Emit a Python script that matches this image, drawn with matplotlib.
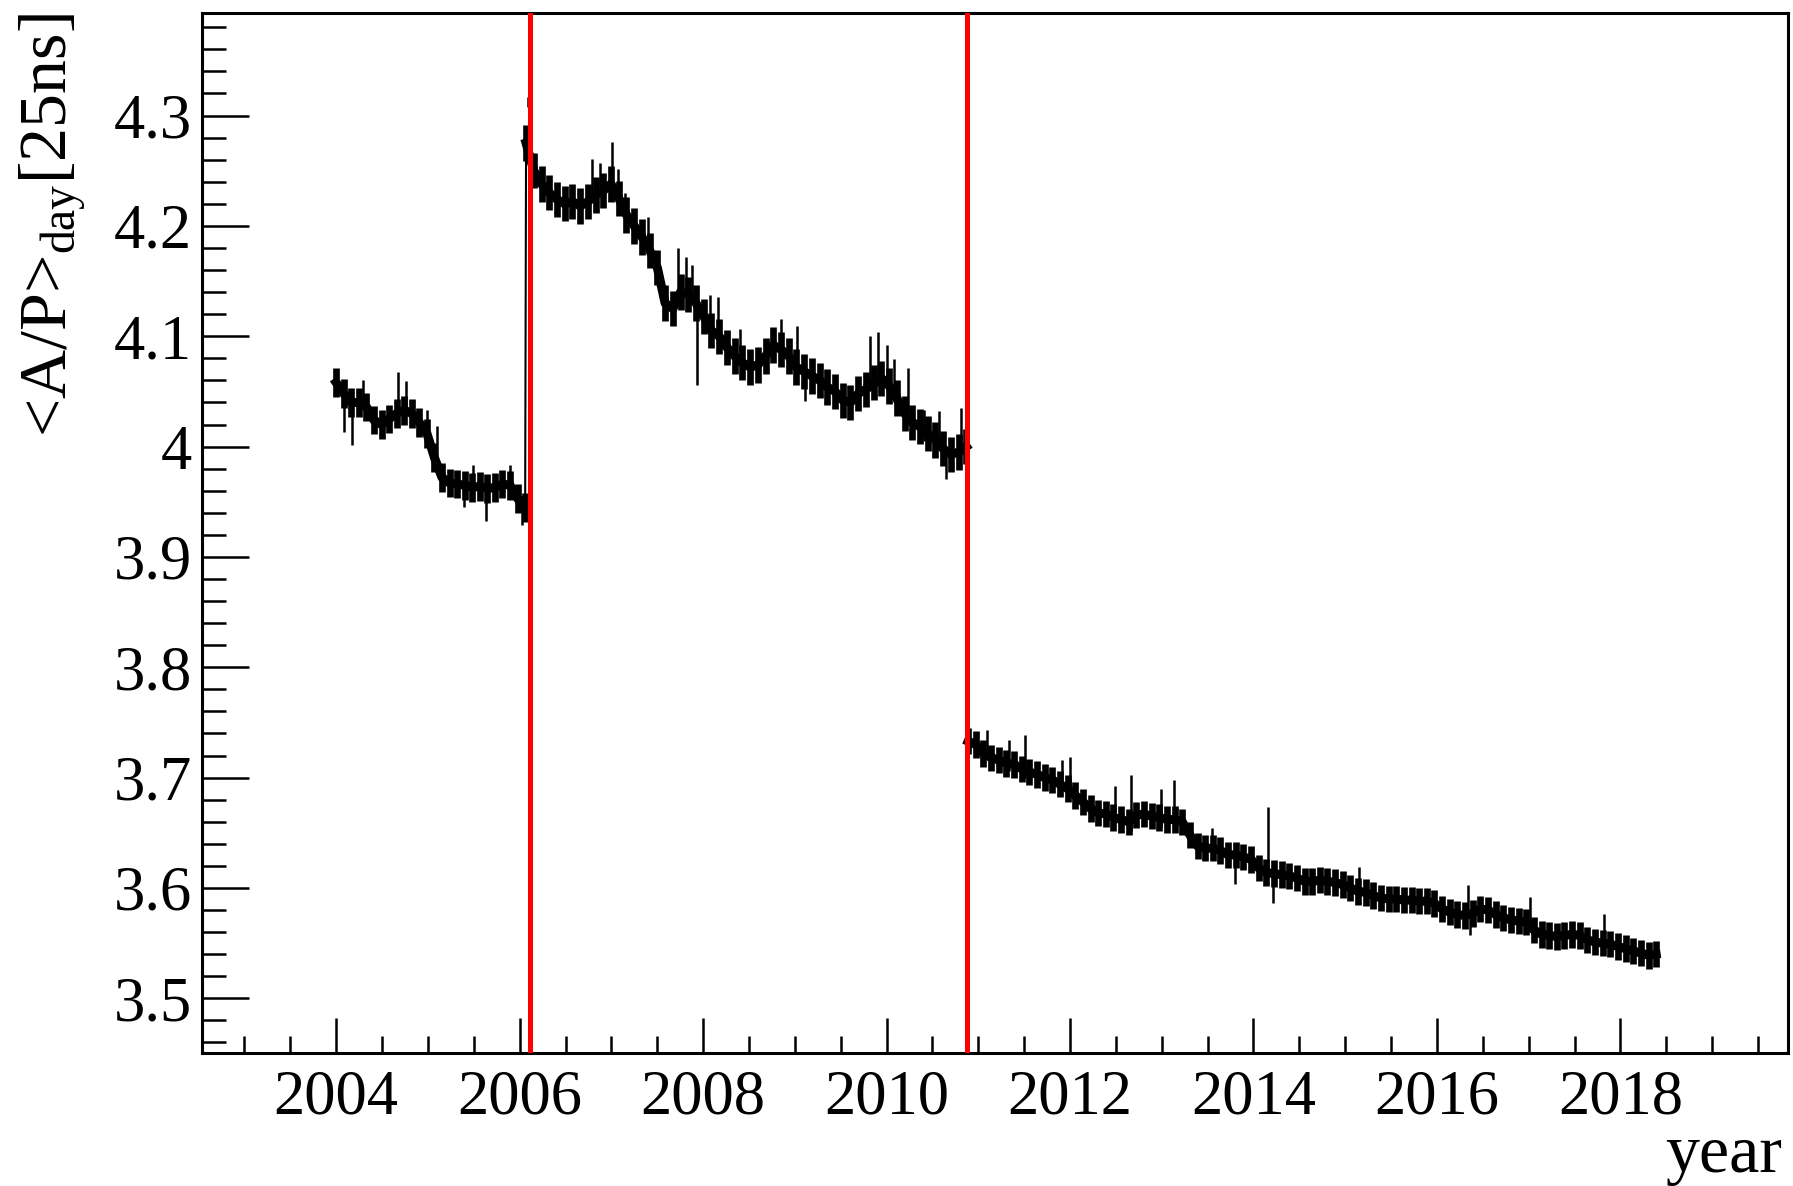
import numpy as np
import matplotlib
matplotlib.use('Agg')
import matplotlib.pyplot as plt
from matplotlib.ticker import MultipleLocator, FormatStrFormatter

plt.rcParams['font.family'] = ['Liberation Serif', 'DejaVu Serif']
plt.rcParams['mathtext.fontset'] = 'custom'
plt.rcParams['mathtext.rm'] = 'Liberation Serif'
plt.rcParams['mathtext.it'] = 'Liberation Serif:italic'

# ---------------- data ----------------
# period 1 : 2004.00 - 2006.06
seg1_range = (2004.00, 2006.06)
seg1_vals = [4.058, 4.048, 4.040, 4.040, 4.036, 4.024, 4.020, 4.025, 4.030, 4.033,
             4.030, 4.022, 4.012, 3.990, 3.972, 3.967, 3.966, 3.965, 3.963, 3.964,
             3.962, 3.963, 3.966, 3.965, 3.953, 3.945]
seg1_err = 0.013

# period 2 : 2006.07 - 2010.87
seg2_range = (2006.07, 2010.87)
seg2_vals = [4.275, 4.250, 4.238, 4.230, 4.224, 4.220, 4.222, 4.218, 4.222, 4.228,
             4.232, 4.238, 4.225, 4.210, 4.200, 4.190, 4.178, 4.162, 4.130, 4.125,
             4.140, 4.138, 4.130, 4.118, 4.105, 4.100, 4.090, 4.082, 4.076, 4.072,
             4.074, 4.082, 4.092, 4.088, 4.082, 4.072, 4.068, 4.064, 4.060, 4.054,
             4.050, 4.042, 4.040, 4.048, 4.052, 4.058, 4.062, 4.055, 4.044, 4.030,
             4.022, 4.018, 4.012, 4.006, 3.998, 3.993, 3.995, 4.000]
seg2_err = 0.016

# period 3 : 2010.89 - 2018.39
seg3_range = (2010.89, 2018.39)
seg3_vals = [3.733, 3.730, 3.722, 3.718, 3.716, 3.713, 3.712, 3.708, 3.705, 3.703,
             3.700, 3.698, 3.694, 3.690, 3.684, 3.678, 3.672, 3.668, 3.667, 3.664,
             3.662, 3.660, 3.666, 3.667, 3.665, 3.664, 3.662, 3.662, 3.660, 3.648,
             3.638, 3.636, 3.636, 3.634, 3.630, 3.630, 3.628, 3.626, 3.618, 3.614,
             3.613, 3.612, 3.611, 3.609, 3.606, 3.606, 3.607, 3.606, 3.605, 3.603,
             3.600, 3.597, 3.596, 3.593, 3.591, 3.590, 3.590, 3.589, 3.589, 3.588,
             3.588, 3.586, 3.581, 3.578, 3.576, 3.575, 3.577, 3.581, 3.580, 3.576,
             3.573, 3.571, 3.570, 3.569, 3.562, 3.558, 3.557, 3.556, 3.557, 3.558,
             3.557, 3.553, 3.551, 3.550, 3.549, 3.547, 3.545, 3.543, 3.541, 3.539,
             3.540]
seg3_err = 0.012

# individual outlying days (time, low end, high end of error bar)
spike_t = [2004.08, 2004.175, 2004.29, 2004.67, 2004.76, 2004.99, 2005.10, 2005.39,
           2005.49, 2005.63, 2005.89, 2006.03, 2006.09,
           2006.785, 2006.876, 2007.003, 2007.076, 2007.148, 2007.403, 2007.73,
           2007.81, 2007.875, 2007.93, 2008.075, 2008.166, 2008.40, 2008.845,
           2009.02, 2009.11, 2009.82, 2009.91, 2010.00, 2010.08, 2010.23, 2010.41,
           2010.575, 2010.65, 2010.81,
           2011.10, 2011.34, 2011.51, 2011.91, 2012.00, 2012.49, 2012.67, 2012.99,
           2013.13, 2013.544, 2013.80, 2014.155, 2014.21, 2015.15, 2016.34,
           2016.36, 2017.015, 2017.82]
spike_lo = [4.013, 4.001, 4.035, 4.025, 4.030, 4.012, 3.975, 3.945,
            3.962, 3.933, 3.962, 3.929, 4.308,
            4.225, 4.228, 4.232, 4.222, 4.205, 4.180, 4.140,
            4.135, 4.130, 4.056, 4.105, 4.100, 4.075, 4.088,
            4.070, 4.041, 4.050, 4.055, 4.055, 4.040, 4.020, 4.005,
            3.998, 3.971, 3.992,
            3.720, 3.706, 3.700, 3.690, 3.684, 3.660, 3.652, 3.655,
            3.655, 3.630, 3.604, 3.614, 3.586, 3.595, 3.577,
            3.557, 3.560, 3.545]
spike_hi = [4.048, 4.040, 4.060, 4.068, 4.059, 4.033, 4.019, 3.966,
            3.983, 3.964, 3.983, 3.955, 4.317,
            4.261, 4.257, 4.276, 4.252, 4.230, 4.208, 4.180,
            4.172, 4.165, 4.125, 4.137, 4.136, 4.107, 4.116,
            4.109, 4.068, 4.100, 4.104, 4.092, 4.079, 4.071, 4.033,
            4.032, 4.000, 4.035,
            3.743, 3.734, 3.739, 3.716, 3.719, 3.692, 3.702, 3.690,
            3.698, 3.654, 3.630, 3.673, 3.614, 3.619, 3.603,
            3.578, 3.592, 3.576]

# run-period boundaries
boundaries = [2006.113, 2010.882]

xlim = (2002.534, 2019.827)
ylim = (3.4504, 4.3929)

# ---------------- figure ----------------
fig = plt.figure(figsize=(17.93, 11.86), dpi=100)
ax = fig.add_axes([0.1125, 0.1121, 0.9972 - 0.1125, 0.989 - 0.1121])

t_all, v_all = [], []
for rng, vals, err in [(seg1_range, seg1_vals, seg1_err),
                       (seg2_range, seg2_vals, seg2_err),
                       (seg3_range, seg3_vals, seg3_err)]:
    t = np.linspace(rng[0], rng[1], len(vals))
    v = np.array(vals)
    ax.plot(t, v, color='black', lw=6.5, solid_joinstyle='round', zorder=3)
    ax.errorbar(t, v, yerr=np.full(len(v), err), fmt='none', ecolor='black',
                elinewidth=4.8, capsize=0, zorder=3)
    t_all.append(t)
    v_all.append(v)

# thin line joining consecutive days (visible at the period jumps)
ax.plot(np.concatenate(t_all), np.concatenate(v_all), color='black', lw=1.5, zorder=3)
ax.vlines(spike_t, spike_lo, spike_hi, color='black', lw=1.8, zorder=3)

for b in boundaries:
    ax.axvline(b, color='#ff0000', lw=3.6, zorder=4)

ax.set_xlim(*xlim)
ax.set_ylim(*ylim)

ax.xaxis.set_major_locator(MultipleLocator(2))
ax.xaxis.set_minor_locator(MultipleLocator(0.5))
ax.yaxis.set_major_locator(MultipleLocator(0.1))
ax.yaxis.set_minor_locator(MultipleLocator(0.02))
ax.xaxis.set_major_formatter(FormatStrFormatter('%d'))
ax.yaxis.set_major_formatter(matplotlib.ticker.FuncFormatter(lambda v, p: '%g' % round(v, 2)))

ax.tick_params(axis='both', which='both', direction='in', top=False, right=False,
               width=1.8, colors='black')
ax.tick_params(axis='x', which='major', length=25, labelsize=45, pad=12)
ax.tick_params(axis='x', which='minor', length=12.5)
ax.tick_params(axis='y', which='major', length=34, labelsize=45, pad=7)
ax.tick_params(axis='y', which='minor', length=17)
for s in ax.spines.values():
    s.set_linewidth(2.2)

fig.text(1782 / 1793, 1 - 1172 / 1186, 'year', ha='right', va='baseline', fontsize=49)
fig.text(18 / 1793, 1 - 13 / 1186, r'<A/P>$_{\mathrm{day}}$[25ns]', rotation=90,
         ha='left', va='top', fontsize=49)

fig.savefig('out.png', dpi=100)
